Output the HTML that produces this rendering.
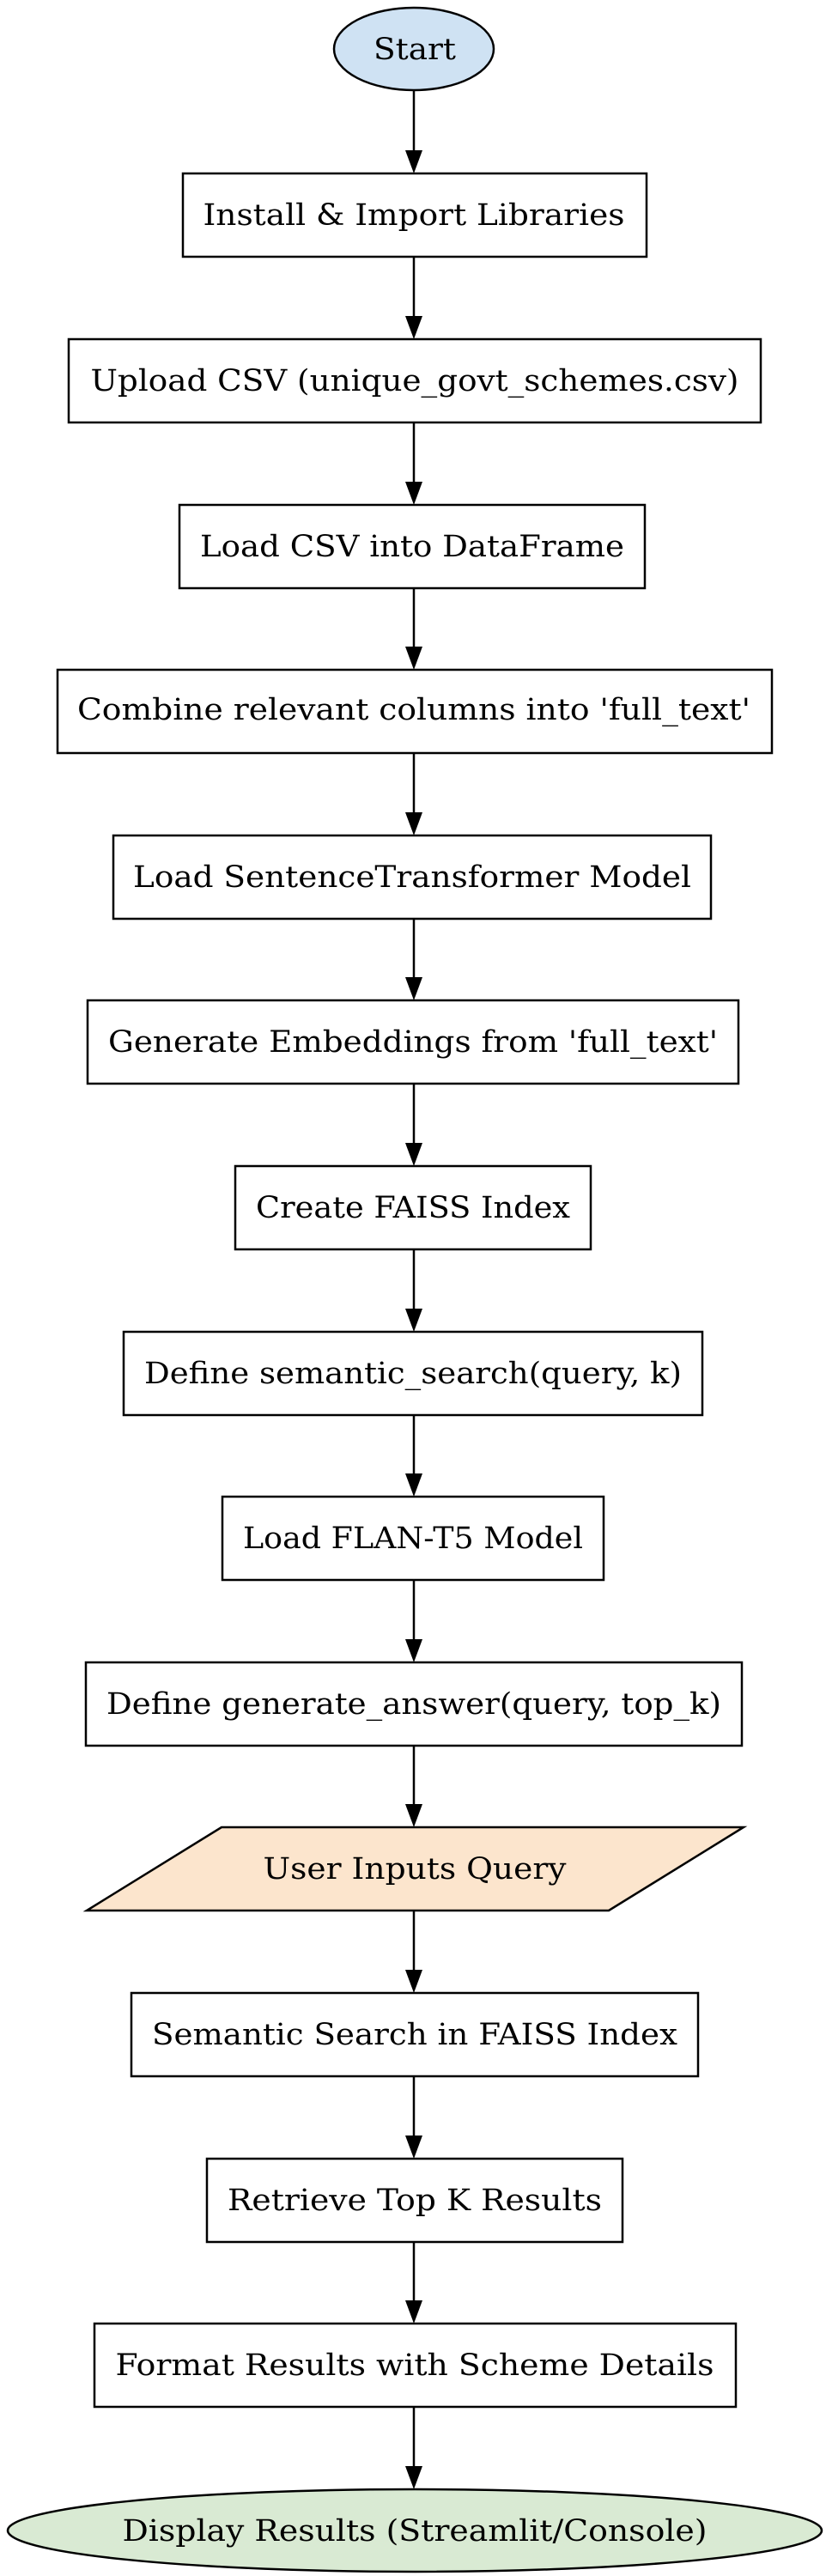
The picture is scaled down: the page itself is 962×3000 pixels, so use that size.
<!DOCTYPE html>
<html><head><meta charset="utf-8"><style>html,body{margin:0;padding:0;background:#fff}svg{display:block}</style></head>
<body>
<svg width="962" height="3000" viewBox="0 0 962 3000" xmlns="http://www.w3.org/2000/svg" font-family="'DejaVu Serif','Liberation Serif',serif" font-size="35">
<g stroke="#000" stroke-width="2.5" fill="none">
<ellipse cx="482" cy="57" rx="93" ry="48" fill="#cfe2f3"/>
<rect x="213" y="202" width="540" height="97" fill="#fff"/>
<rect x="80" y="395" width="806" height="97" fill="#fff"/>
<rect x="209" y="588" width="542" height="97" fill="#fff"/>
<rect x="67" y="780" width="832" height="97" fill="#fff"/>
<rect x="132" y="973" width="696" height="97" fill="#fff"/>
<rect x="102" y="1165" width="758" height="97" fill="#fff"/>
<rect x="274" y="1358" width="414" height="97" fill="#fff"/>
<rect x="144" y="1551" width="674" height="97" fill="#fff"/>
<rect x="259" y="1743" width="444" height="97" fill="#fff"/>
<rect x="100" y="1936" width="764" height="97" fill="#fff"/>
<polygon points="258,2128 866,2128 709,2225 101,2225" fill="#fce5cd"/>
<rect x="153" y="2321" width="660" height="97" fill="#fff"/>
<rect x="241" y="2514" width="484" height="97" fill="#fff"/>
<rect x="110" y="2706" width="747" height="97" fill="#fff"/>
<ellipse cx="483" cy="2947" rx="474" ry="48" fill="#d9ead3"/>
</g>
<g stroke="#000" stroke-width="2.5">
<line x1="482" y1="105" x2="482" y2="176"/>
<line x1="482" y1="299" x2="482" y2="369"/>
<line x1="482" y1="492" x2="482" y2="562"/>
<line x1="482" y1="685" x2="482" y2="754"/>
<line x1="482" y1="877" x2="482" y2="947"/>
<line x1="482" y1="1070" x2="482" y2="1139"/>
<line x1="482" y1="1262" x2="482" y2="1332"/>
<line x1="482" y1="1455" x2="482" y2="1525"/>
<line x1="482" y1="1648" x2="482" y2="1717"/>
<line x1="482" y1="1840" x2="482" y2="1910"/>
<line x1="482" y1="2033" x2="482" y2="2102"/>
<line x1="482" y1="2225" x2="482" y2="2295"/>
<line x1="482" y1="2418" x2="482" y2="2488"/>
<line x1="482" y1="2611" x2="482" y2="2680"/>
<line x1="482" y1="2803" x2="482" y2="2873"/>
</g>
<g fill="#000">
<polygon points="472,175 492,175 482,202"/>
<polygon points="472,368 492,368 482,395"/>
<polygon points="472,561 492,561 482,588"/>
<polygon points="472,753 492,753 482,780"/>
<polygon points="472,946 492,946 482,973"/>
<polygon points="472,1138 492,1138 482,1165"/>
<polygon points="472,1331 492,1331 482,1358"/>
<polygon points="472,1524 492,1524 482,1551"/>
<polygon points="472,1716 492,1716 482,1743"/>
<polygon points="472,1909 492,1909 482,1936"/>
<polygon points="472,2101 492,2101 482,2128"/>
<polygon points="472,2294 492,2294 482,2321"/>
<polygon points="472,2487 492,2487 482,2514"/>
<polygon points="472,2679 492,2679 482,2706"/>
<polygon points="472,2872 492,2872 482,2899"/>
</g>
<g fill="#000" text-anchor="middle">
<text x="483" y="69" textLength="96" lengthAdjust="spacingAndGlyphs">Start</text>
<text x="482" y="262" textLength="491" lengthAdjust="spacingAndGlyphs">Install &amp; Import Libraries</text>
<text x="483" y="455" textLength="755" lengthAdjust="spacingAndGlyphs">Upload CSV (unique_govt_schemes.csv)</text>
<text x="480" y="648" textLength="494" lengthAdjust="spacingAndGlyphs">Load CSV into DataFrame</text>
<text x="482" y="838" textLength="784" lengthAdjust="spacingAndGlyphs">Combine relevant columns into 'full_text'</text>
<text x="480" y="1033" textLength="650" lengthAdjust="spacingAndGlyphs">Load SentenceTransformer Model</text>
<text x="481" y="1225" textLength="710" lengthAdjust="spacingAndGlyphs">Generate Embeddings from 'full_text'</text>
<text x="481" y="1418" textLength="366" lengthAdjust="spacingAndGlyphs">Create FAISS Index</text>
<text x="481" y="1611" textLength="626" lengthAdjust="spacingAndGlyphs">Define semantic_search(query, k)</text>
<text x="481" y="1803" textLength="396" lengthAdjust="spacingAndGlyphs">Load FLAN-T5 Model</text>
<text x="482" y="1996" textLength="716" lengthAdjust="spacingAndGlyphs">Define generate_answer(query, top_k)</text>
<text x="483" y="2188" textLength="353" lengthAdjust="spacingAndGlyphs">User Inputs Query</text>
<text x="483" y="2381" textLength="612" lengthAdjust="spacingAndGlyphs">Semantic Search in FAISS Index</text>
<text x="483" y="2574" textLength="436" lengthAdjust="spacingAndGlyphs">Retrieve Top K Results</text>
<text x="483" y="2766" textLength="697" lengthAdjust="spacingAndGlyphs">Format Results with Scheme Details</text>
<text x="483" y="2959" textLength="681" lengthAdjust="spacingAndGlyphs">Display Results (Streamlit/Console)</text>
</g>
</svg>
</body></html>
